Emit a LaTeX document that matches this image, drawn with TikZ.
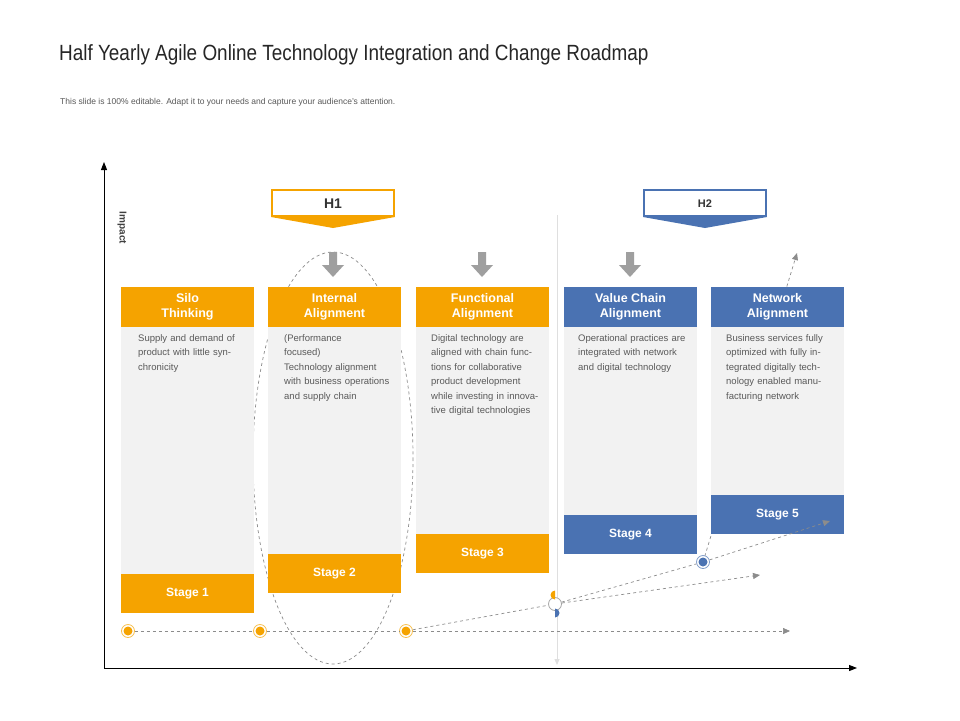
\documentclass[tikz,border=0pt]{standalone}
\usepackage{fontspec}
\setmainfont{Liberation Sans}
\usetikzlibrary{arrows.meta,calc}
\definecolor{org}{HTML}{F5A300}
\definecolor{blu}{HTML}{4A72B2}
\definecolor{bod}{HTML}{F2F2F2}
\definecolor{txt}{HTML}{595959}
\definecolor{dsh}{HTML}{8C8C8C}
\tikzset{
 hdr/.style={fill=#1,minimum width=133pt,minimum height=40pt,inner sep=0pt,text=white,font=\bfseries\fontsize{12.5}{15}\selectfont,align=center},
 stg/.style={fill=#1,minimum width=133pt,minimum height=39pt,inner sep=0pt,text=white,font=\bfseries\fontsize{12}{14}\selectfont},
 bodytxt/.style={anchor=north west,text width=108pt,align=left,text=txt,font=\fontsize{9.5}{14.5}\selectfont,inner sep=0pt},
 dl/.style={dsh,dashed,line width=0.7pt},
 dla/.style={dl,-{Triangle[length=7pt,width=6pt]}},
 dot/.style={circle,draw=#1!70,fill=white,line width=0.8pt,minimum size=13pt,inner sep=0pt},
 gar/.style={fill=gray!75,draw=none}
}
\begin{document}
\begin{tikzpicture}[x=1pt,y=-1pt]
\useasboundingbox[fill=white] (0,0) rectangle (960,720);
\node[anchor=west,font=\fontsize{22}{26}\selectfont,xscale=0.86,text=black!85,inner sep=0pt] (title) at (59,55) {Half Yearly Agile Online Technology Integration and Change Roadmap};
\node[anchor=west,font=\fontsize{8.5}{10}\selectfont,text=txt,inner sep=0pt] (sub) at (60,102) {This slide is 100\% editable. Adapt it to your needs and capture your audience's attention.};
% ellipse and background lines
\draw[dl] (333,458) ellipse (80 and 206);
\draw[gray!25,line width=0.8pt,-{Triangle[length=6pt,width=5pt]}] (557,215) -- (557,665);
\coordinate (e1) at (790,631);
\coordinate (e2) at (760,575);
\coordinate (e3) at (830,521);
\coordinate (e4) at (797,253);
\coordinate (p5) at (703,562);
\draw[dla] (p5) -- (e4);
% columns
\foreach \x/\c/\sy [count=\i] in {121/org/574,268/org/554,416/org/534,564/blu/515,711/blu/495}{
 \fill[bod] (\x,327) rectangle (\x+133,\sy);
}
\node[hdr=org] (h1) at (187.5,307) {Silo\\Thinking};
\node[hdr=org] (h2) at (334.5,307) {Internal\\Alignment};
\node[hdr=org] (h3) at (482.5,307) {Functional\\Alignment};
\node[hdr=blu] (h4) at (630.5,307) {Value Chain\\Alignment};
\node[hdr=blu] (h5) at (777.5,307) {Network\\Alignment};
\node[stg=org] (s1) at (187.5,593.5) {Stage 1};
\node[stg=org] (s2) at (334.5,573.5) {Stage 2};
\node[stg=org] (s3) at (482.5,553.5) {Stage 3};
\node[stg=blu] (s4) at (630.5,534.5) {Stage 4};
\node[stg=blu] (s5) at (777.5,514.5) {Stage 5};
\node[bodytxt] (b1) at (138,334) {Supply and demand of product with little synchronicity};
\node[bodytxt] (b2) at (284,334) {(Performance\\focused)\\Technology alignment with business operations and supply chain};
\node[bodytxt] (b3) at (431,334) {Digital technology are aligned with chain functions for collaborative product development while investing in innovative digital technologies};
\node[bodytxt] (b4) at (578,334) {Operational practices are integrated with network and digital technology};
\node[bodytxt,text width=100pt] (b5) at (726,334) {Business services fully optimized with fully integrated digitally technology enabled manufacturing network};
% gray arrows
\foreach \x in {333,482,630}{
 \fill[gar] (\x-4,252) rectangle (\x+4,265) -- (\x+11,265) -- (\x,277) -- (\x-11,265) -- (\x-4,265) -- cycle;
}
% H boxes
\draw[org,line width=2pt,fill=white] (272,190) -- (394,190) -- (394,216) -- (272,216) -- cycle;
\fill[org] (271,217) -- (395,217) -- (333,228) -- cycle;
\node[font=\bfseries\fontsize{14}{16}\selectfont,text=black!80] (H1) at (333,204) {H1};
\draw[blu,line width=2pt,fill=white] (644,190) -- (766,190) -- (766,216) -- (644,216) -- cycle;
\fill[blu] (643,217) -- (767,217) -- (705,228) -- cycle;
\node[font=\bfseries\fontsize{11}{13}\selectfont,text=black!80] (H2) at (705,204) {H2};
% dots and dashed connectors
\node[dot=org] (c1) at (128,631) {};
\node[dot=org] (c2) at (260,631) {};
\node[dot=org] (c3) at (406,631) {};
\node[dot=gray] (c4) at (555,604) {};
\node[dot=blu] (c5) at (p5) {};
\draw[dla] (c1) -- (c2) -- (c3) -- (e1);
\draw[dl] (c3) -- (c4);
\draw[dla] (c4) -- (e2);
\draw[dl] (c4) -- (c5);
\draw[dla] (c5) -- (e3);
\fill[org] (c1) circle (4.5pt); \fill[org] (c2) circle (4.5pt); \fill[org] (c3) circle (4.5pt);
\fill[org] ($(c4)+(0,-4.5)$) arc (90:270:4.5) -- cycle;
\fill[blu] ($(c4)+(0,4.5)$) arc (-90:90:4.5) -- cycle;
\fill[blu] (c5) circle (4.5pt);
% axes
\coordinate (o) at (104,668);
\coordinate (ytop) at (104,162);
\coordinate (xend) at (857,668);
\draw[black,line width=1pt,-{Triangle[length=8pt,width=6pt]}] (o) -- (ytop);
\draw[black,line width=1pt,-{Triangle[length=8pt,width=6pt]}] (o) -- (xend);
\node[rotate=-90,font=\bfseries\fontsize{10}{12}\selectfont,text=black!75] (imp) at (122,228) {Impact};
\end{tikzpicture}
\end{document}
